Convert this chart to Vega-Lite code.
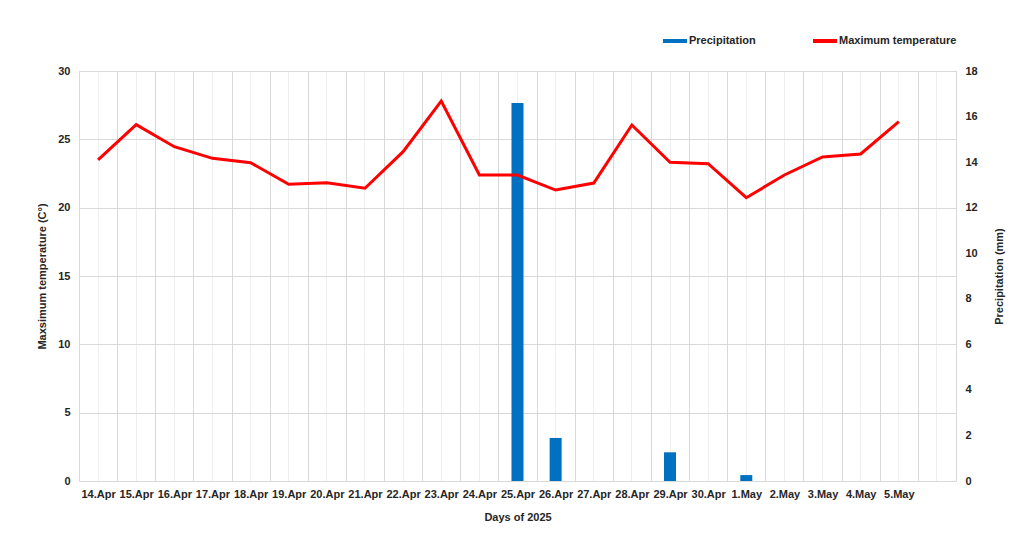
{
  "$schema": "https://vega.github.io/schema/vega-lite/v6.json",
  "width": 877,
  "height": 410,
  "autosize": "none",
  "padding": {"left": 79, "top": 71, "right": 58, "bottom": 57},
  "background": "white",
  "config": {
    "font": "Liberation Sans",
    "view": {"stroke": "#d9d9d9", "strokeWidth": 1},
    "axis": {
      "labelFont": "Liberation Sans",
      "labelFontSize": 11,
      "labelFontWeight": "bold",
      "labelColor": "#262626",
      "titleFont": "Liberation Sans",
      "titleFontSize": 11,
      "titleFontWeight": "bold",
      "titleColor": "#262626",
      "domain": false,
      "ticks": false
    },
    "legend": {
      "labelFont": "Liberation Sans",
      "labelFontSize": 11,
      "labelFontWeight": "bold",
      "labelColor": "#262626"
    }
  },
  "data": {
    "values": [
      {"day": "14.Apr", "temp": 23.5, "precip": 0},
      {"day": "15.Apr", "temp": 26.07, "precip": 0},
      {"day": "16.Apr", "temp": 24.46, "precip": 0},
      {"day": "17.Apr", "temp": 23.61, "precip": 0},
      {"day": "18.Apr", "temp": 23.29, "precip": 0},
      {"day": "19.Apr", "temp": 21.71, "precip": 0},
      {"day": "20.Apr", "temp": 21.83, "precip": 0},
      {"day": "21.Apr", "temp": 21.42, "precip": 0},
      {"day": "22.Apr", "temp": 24.1, "precip": 0},
      {"day": "23.Apr", "temp": 27.8, "precip": 0},
      {"day": "24.Apr", "temp": 22.39, "precip": 0},
      {"day": "25.Apr", "temp": 22.39, "precip": 16.6},
      {"day": "26.Apr", "temp": 21.29, "precip": 1.89},
      {"day": "27.Apr", "temp": 21.8, "precip": 0},
      {"day": "28.Apr", "temp": 26.05, "precip": 0},
      {"day": "29.Apr", "temp": 23.32, "precip": 1.26},
      {"day": "30.Apr", "temp": 23.22, "precip": 0},
      {"day": "1.May", "temp": 20.73, "precip": 0.26},
      {"day": "2.May", "temp": 22.39, "precip": 0},
      {"day": "3.May", "temp": 23.71, "precip": 0},
      {"day": "4.May", "temp": 23.93, "precip": 0},
      {"day": "5.May", "temp": 26.29, "precip": 0}
    ]
  },
  "layer": [
    {
      "mark": {"type": "bar", "width": {"band": 0.315}},
      "encoding": {
        "x": {
          "field": "day",
          "type": "ordinal",
          "sort": null,
          "scale": {
            "domain": ["14.Apr","15.Apr","16.Apr","17.Apr","18.Apr","19.Apr","20.Apr","21.Apr","22.Apr","23.Apr","24.Apr","25.Apr","26.Apr","27.Apr","28.Apr","29.Apr","30.Apr","1.May","2.May","3.May","4.May","5.May","6.May"],
            "paddingInner": 0,
            "paddingOuter": 0
          },
          "axis": {
            "orient": "bottom",
            "title": "Days of 2025",
            "labelAngle": 0,
            "labelPadding": 7,
            "titlePadding": 12,
            "tickBand": "extent",
            "grid": true,
            "gridColor": "#d9d9d9",
            "gridWidth": 1,
            "labelExpr": "datum.value == '6.May' ? '' : datum.label"
          }
        },
        "y": {
          "field": "precip",
          "type": "quantitative",
          "scale": {"domain": [0, 18]},
          "axis": {
            "orient": "right",
            "title": "Precipitation (mm)",
            "values": [0, 2, 4, 6, 8, 10, 12, 14, 16, 18],
            "grid": false,
            "labelPadding": 9,
            "titleAngle": -90,
            "titlePadding": 27
          }
        },
        "color": {
          "datum": "Precipitation",
          "type": "nominal",
          "scale": {"domain": ["Precipitation", "Maximum temperature"], "range": ["#0070C0", "#FF0000"]},
          "legend": {
            "title": null,
            "orient": "none",
            "direction": "horizontal",
            "legendX": 582,
            "legendY": -44,
            "symbolType": "stroke",
            "symbolSize": 576,
            "symbolStrokeWidth": 4,
            "labelOffset": 0,
            "columnPadding": 49
          }
        }
      }
    },
    {
      "mark": {"type": "line", "strokeWidth": 3, "color": "#FF0000"},
      "encoding": {
        "x": {
          "field": "day",
          "type": "ordinal",
          "sort": null,
          "axis": {
            "orient": "top",
            "title": null,
            "labels": false,
            "grid": true,
            "gridColor": "#efefef",
            "gridWidth": 1
          }
        },
        "y": {
          "field": "temp",
          "type": "quantitative",
          "scale": {"domain": [0, 30]},
          "axis": {
            "orient": "left",
            "title": "Maxsimum temperature (C°)",
            "values": [0, 5, 10, 15, 20, 25, 30],
            "grid": true,
            "gridColor": "#d9d9d9",
            "labelPadding": 9,
            "titlePadding": 10
          }
        },
        "color": {"datum": "Maximum temperature", "type": "nominal"}
      }
    }
  ],
  "resolve": {"scale": {"y": "independent"}, "axis": {"x": "independent"}}
}
